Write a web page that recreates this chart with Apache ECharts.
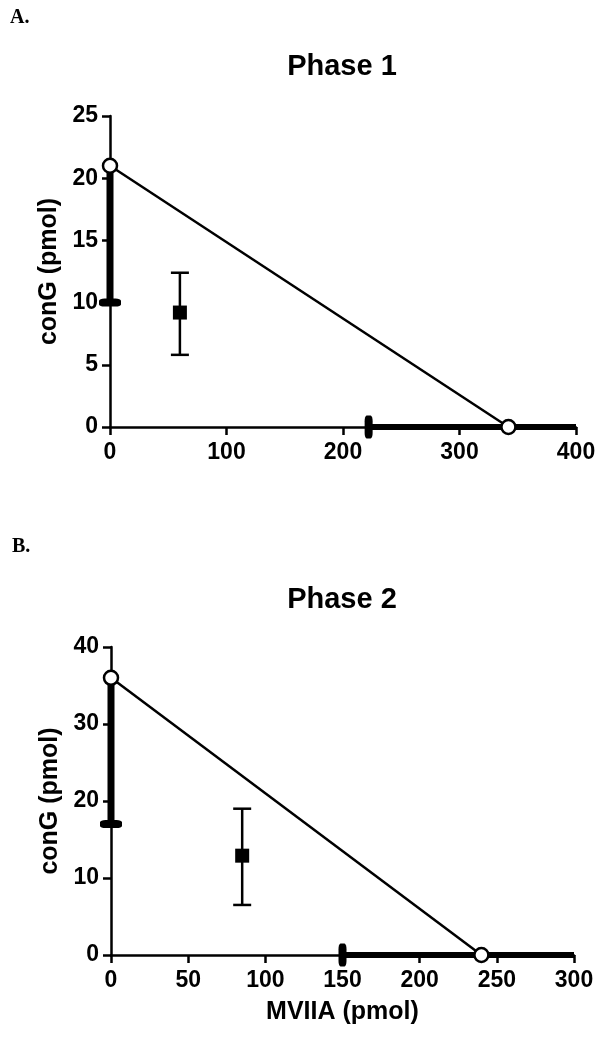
<!DOCTYPE html>
<html>
<head>
<meta charset="utf-8">
<script src="https://cdn.jsdelivr.net/npm/echarts@6/dist/echarts.min.js"></script>
<style>
html,body{margin:0;padding:0;background:#fff;}
#chart{width:604px;height:1037px;}
</style>
</head>
<body>
<div id="chart"></div>
<script>
// ---------- data ----------
const panelLabels = ['A.', 'B.'];
const titles = ['Phase 1', 'Phase 2'];
const xAxisNames = ['', 'MVIIA (pmol)'];
const yAxisNames = ['conG (pmol)', 'conG (pmol)'];

const xTicksA = [0, 100, 200, 300, 400];
const yTicksA = [0, 5, 10, 15, 20, 25];
const xTicksB = [0, 50, 100, 150, 200, 250, 300];
const yTicksB = [0, 10, 20, 30, 40];

// isobole line between the two single-drug points
const isoboleA = [[0, 21], [342, 0]];
const isoboleB = [[0, 36], [240, 0]];

// confidence ranges of the single drugs (thick bars on the axes)
const conGRangeA = [[0, 10], [0, 21]];
const mviiaRangeA = [[222, 0], [400, 0]];
const conGRangeB = [[0, 17], [0, 36]];
const mviiaRangeB = [[150, 0], [300, 0]];

// experimental mixture point: [x, y, low, high]
const mixA = [[60, 9.2, 5.8, 12.4]];
const mixB = [[85, 12.9, 6.5, 19.0]];

// ---------- chart ----------
const FONT = '"Liberation Sans", Arial, Helvetica, sans-serif';
const chart = echarts.init(document.getElementById('chart'), null, {renderer: 'canvas'});

function xAxis(ticks, gridIndex, name) {
  return {
    type: 'value', gridIndex: gridIndex,
    min: ticks[0], max: ticks[ticks.length - 1], interval: ticks[1] - ticks[0],
    name: name, nameLocation: 'middle', nameGap: 45,
    nameTextStyle: {color: '#000', fontFamily: FONT, fontWeight: 'bold', fontSize: 25},
    axisLine: {show: true, onZero: false, lineStyle: {color: '#000', width: 2.5}},
    axisTick: {show: true, length: 8, lineStyle: {color: '#000', width: 2.5}},
    axisLabel: {color: '#000', fontFamily: FONT, fontWeight: 'bold', fontSize: 23, margin: 14},
    splitLine: {show: false}
  };
}
function yAxis(ticks, gridIndex, name) {
  return {
    type: 'value', gridIndex: gridIndex,
    min: ticks[0], max: ticks[ticks.length - 1], interval: ticks[1] - ticks[0],
    name: name, nameLocation: 'middle', nameGap: 42, nameRotate: 90,
    nameTextStyle: {color: '#000', fontFamily: FONT, fontWeight: 'bold', fontSize: 25},
    axisLine: {show: true, onZero: false, lineStyle: {color: '#000', width: 2.5}},
    axisTick: {show: true, length: 8, lineStyle: {color: '#000', width: 2.5}},
    axisLabel: {color: '#000', fontFamily: FONT, fontWeight: 'bold', fontSize: 23, margin: 12},
    splitLine: {show: false}
  };
}

function errorBar(api) {
  const x = api.value(0), lo = api.value(2), hi = api.value(3);
  const pLo = api.coord([x, lo]);
  const pHi = api.coord([x, hi]);
  const hw = 9;
  const st = {stroke: '#000', lineWidth: 2.5};
  return {
    type: 'group',
    children: [
      {type: 'line', shape: {x1: pLo[0], y1: pLo[1], x2: pHi[0], y2: pHi[1]}, style: st},
      {type: 'line', shape: {x1: pLo[0] - hw, y1: pLo[1], x2: pLo[0] + hw, y2: pLo[1]}, style: st},
      {type: 'line', shape: {x1: pHi[0] - hw, y1: pHi[1], x2: pHi[0] + hw, y2: pHi[1]}, style: st}
    ]
  };
}

function panelSeries(idx, isobole, conGRange, mviiaRange, mix) {
  return [
    { // thick conG range on y axis
      type: 'line', xAxisIndex: idx, yAxisIndex: idx, data: conGRange,
      symbol: 'none', clip: false, z: 3,
      lineStyle: {color: '#000', width: 7, cap: 'butt'}, silent: true
    },
    { // end cap of conG range
      type: 'scatter', xAxisIndex: idx, yAxisIndex: idx, data: [conGRange[0]],
      symbol: 'roundRect', symbolSize: [22, 8], clip: false, z: 4,
      itemStyle: {color: '#000', opacity: 1}, silent: true
    },
    { // thick MVIIA range on x axis
      type: 'line', xAxisIndex: idx, yAxisIndex: idx, data: mviiaRange,
      symbol: 'none', clip: false, z: 3,
      lineStyle: {color: '#000', width: 6, cap: 'butt'}, silent: true
    },
    { // end cap of MVIIA range
      type: 'scatter', xAxisIndex: idx, yAxisIndex: idx, data: [mviiaRange[0]],
      symbol: 'roundRect', symbolSize: [8, 23], clip: false, z: 4,
      itemStyle: {color: '#000', opacity: 1}, silent: true
    },
    { // isobole with open circles
      type: 'line', xAxisIndex: idx, yAxisIndex: idx, data: isobole,
      symbol: 'circle', symbolSize: 14, showAllSymbol: true, clip: false, z: 5,
      lineStyle: {color: '#000', width: 2.5},
      itemStyle: {color: '#fff', borderColor: '#000', borderWidth: 2.5, opacity: 1}, silent: true
    },
    { // error bar of mixture
      type: 'custom', xAxisIndex: idx, yAxisIndex: idx, data: mix,
      renderItem: function (params, api) { return errorBar(api); }, z: 5, silent: true
    },
    { // mixture point
      type: 'scatter', xAxisIndex: idx, yAxisIndex: idx,
      data: mix.map(d => [d[0], d[1]]),
      symbol: 'rect', symbolSize: 14, z: 6,
      itemStyle: {color: '#000', opacity: 1}, silent: true
    }
  ];
}

const option = {
  animation: false,
  backgroundColor: '#fff',
  grid: [
    {left: 110, top: 116, width: 466, height: 311},
    {left: 111, top: 647, width: 463, height: 308}
  ],
  xAxis: [xAxis(xTicksA, 0, xAxisNames[0]), xAxis(xTicksB, 1, xAxisNames[1])],
  yAxis: [yAxis(yTicksA, 0, yAxisNames[0]), yAxis(yTicksB, 1, yAxisNames[1])],
  graphic: [
    {type: 'text', left: 10, top: 8, style: {text: panelLabels[0], fill: '#000', font: 'bold 20px "Liberation Serif", "Times New Roman", serif'}},
    {type: 'text', left: 12, top: 537, style: {text: panelLabels[1], fill: '#000', font: 'bold 20px "Liberation Serif", "Times New Roman", serif'}},
    {type: 'text', x: 342, y: 52, style: {text: titles[0], fill: '#000', align: 'center', verticalAlign: 'top', font: 'bold 29px "Liberation Sans", Arial, sans-serif'}},
    {type: 'text', x: 342, y: 585, style: {text: titles[1], fill: '#000', align: 'center', verticalAlign: 'top', font: 'bold 29px "Liberation Sans", Arial, sans-serif'}}
  ],
  series: [].concat(
    panelSeries(0, isoboleA, conGRangeA, mviiaRangeA, mixA),
    panelSeries(1, isoboleB, conGRangeB, mviiaRangeB, mixB)
  )
};
chart.setOption(option);
</script>
</body>
</html>
